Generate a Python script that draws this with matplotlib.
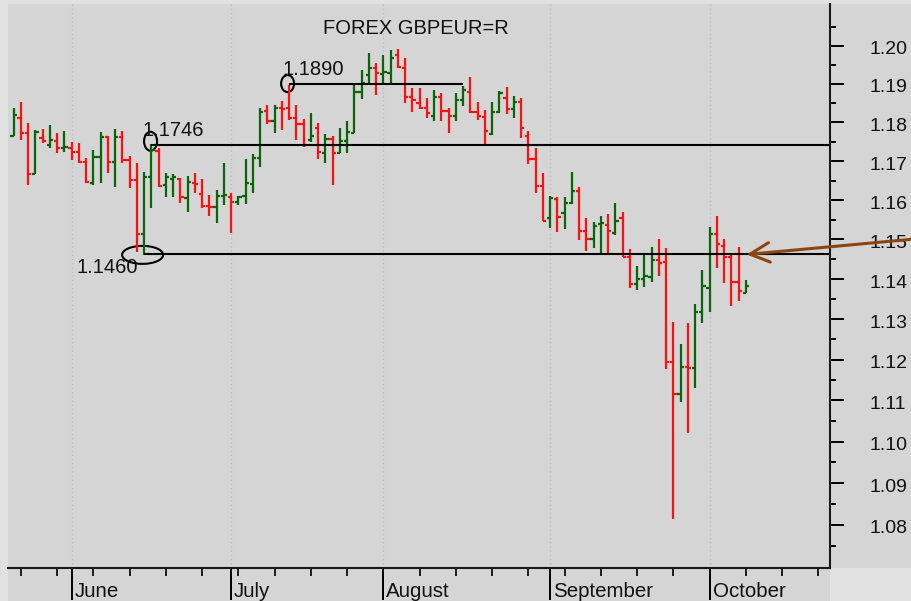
import numpy as np
import pandas as pd
import matplotlib
matplotlib.use("Agg")
import matplotlib.pyplot as plt
from matplotlib.patches import Ellipse, Rectangle
from matplotlib.ticker import FixedLocator, NullFormatter, FuncFormatter
from matplotlib.transforms import ScaledTranslation

plt.rcParams["font.family"] = ["Liberation Sans", "DejaVu Sans"]

# daily GBP/EUR bars, one per weekday
dates = pd.bdate_range("2022-05-20", "2022-10-10")

opens = [1.1765, 1.1812, 1.1773, 1.1667, 1.1760, 1.1742, 1.1752, 1.1734,
         1.1734, 1.1724, 1.1698, 1.1644, 1.1711, 1.1762, 1.1698, 1.1762,
         1.1703, 1.1652, 1.1514, 1.1659, 1.1726, 1.1639, 1.1654, 1.1654,
         1.1606, 1.1644, 1.1616, 1.1585, 1.1583, 1.1611, 1.1608, 1.1595,
         1.1611, 1.1641, 1.1708, 1.1830, 1.1804, 1.1838, 1.1838, 1.1812,
         1.1796, 1.1755, 1.1786, 1.1721, 1.1757, 1.1721, 1.1752, 1.1773,
         1.1879, 1.1924, 1.1942, 1.1926, 1.1929, 1.1976, 1.1942, 1.1866,
         1.1851, 1.1838, 1.1817, 1.1866, 1.1830, 1.1817, 1.1858, 1.1879,
         1.1827, 1.1814, 1.1770, 1.1827, 1.1864, 1.1835, 1.1853, 1.1765,
         1.1706, 1.1636, 1.1555, 1.1603, 1.1567, 1.1593, 1.1623, 1.1522,
         1.1501, 1.1539, 1.1537, 1.1516, 1.1555, 1.1456, 1.1388, 1.1400,
         1.1405, 1.1448, 1.1443, 1.1194, 1.1116, 1.1182, 1.1179, 1.1318,
         1.1378, 1.1514, 1.1483, 1.1456, 1.1393, 1.1366]
highs = [1.1838, 1.1853, 1.1798, 1.1780, 1.1783, 1.1793, 1.1773, 1.1778,
         1.1749, 1.1747, 1.1708, 1.1729, 1.1775, 1.1765, 1.1783, 1.1778,
         1.1713, 1.1695, 1.1672, 1.1744, 1.1734, 1.1670, 1.1667, 1.1657,
         1.1662, 1.1670, 1.1654, 1.1613, 1.1626, 1.1695, 1.1618, 1.1611,
         1.1705, 1.1718, 1.1838, 1.1845, 1.1845, 1.1856, 1.1897, 1.1845,
         1.1809, 1.1825, 1.1798, 1.1770, 1.1765, 1.1786, 1.1804, 1.1897,
         1.1937, 1.1982, 1.1955, 1.1976, 1.1989, 1.1992, 1.1968, 1.1890,
         1.1890, 1.1864, 1.1884, 1.1877, 1.1838, 1.1877, 1.1895, 1.1918,
         1.1853, 1.1832, 1.1853, 1.1882, 1.1892, 1.1869, 1.1864, 1.1778,
         1.1734, 1.1670, 1.1611, 1.1608, 1.1608, 1.1672, 1.1634, 1.1555,
         1.1545, 1.1560, 1.1565, 1.1593, 1.1570, 1.1476, 1.1433, 1.1461,
         1.1481, 1.1501, 1.1478, 1.1293, 1.1238, 1.1291, 1.1338, 1.1423,
         1.1532, 1.1560, 1.1501, 1.1466, 1.1481, 1.1398]
lows = [1.1765, 1.1755, 1.1639, 1.1667, 1.1747, 1.1734, 1.1721, 1.1724,
        1.1703, 1.1695, 1.1644, 1.1639, 1.1644, 1.1670, 1.1634, 1.1695,
        1.1631, 1.1468, 1.1461, 1.1580, 1.1634, 1.1608, 1.1608, 1.1593,
        1.1570, 1.1618, 1.1580, 1.1560, 1.1542, 1.1588, 1.1516, 1.1588,
        1.1590, 1.1618, 1.1685, 1.1796, 1.1773, 1.1780, 1.1806, 1.1755,
        1.1737, 1.1749, 1.1706, 1.1695, 1.1639, 1.1721, 1.1721, 1.1773,
        1.1861, 1.1897, 1.1871, 1.1897, 1.1903, 1.1942, 1.1851, 1.1827,
        1.1835, 1.1812, 1.1804, 1.1804, 1.1773, 1.1804, 1.1843, 1.1825,
        1.1806, 1.1744, 1.1767, 1.1825, 1.1822, 1.1812, 1.1760, 1.1693,
        1.1618, 1.1547, 1.1529, 1.1519, 1.1527, 1.1590, 1.1498, 1.1471,
        1.1478, 1.1463, 1.1463, 1.1511, 1.1456, 1.1378, 1.1373, 1.1380,
        1.1393, 1.1408, 1.1177, 1.0814, 1.1096, 1.1021, 1.1130, 1.1291,
        1.1318, 1.1428, 1.1390, 1.1333, 1.1346, 1.1366]
closes = [1.1819, 1.1773, 1.1667, 1.1775, 1.1752, 1.1755, 1.1734, 1.1737,
          1.1724, 1.1698, 1.1646, 1.1711, 1.1762, 1.1698, 1.1762, 1.1703,
          1.1652, 1.1514, 1.1659, 1.1729, 1.1636, 1.1659, 1.1659, 1.1608,
          1.1646, 1.1641, 1.1585, 1.1583, 1.1611, 1.1613, 1.1595, 1.1608,
          1.1644, 1.1708, 1.1827, 1.1804, 1.1838, 1.1835, 1.1812, 1.1796,
          1.1742, 1.1765, 1.1724, 1.1757, 1.1721, 1.1752, 1.1775, 1.1879,
          1.1903, 1.1942, 1.1929, 1.1932, 1.1968, 1.1945, 1.1866, 1.1858,
          1.1838, 1.1825, 1.1866, 1.1830, 1.1817, 1.1858, 1.1884, 1.1827,
          1.1817, 1.1778, 1.1827, 1.1877, 1.1835, 1.1853, 1.1786, 1.1706,
          1.1636, 1.1547, 1.1605, 1.1557, 1.1593, 1.1623, 1.1522, 1.1501,
          1.1534, 1.1542, 1.1522, 1.1547, 1.1456, 1.1388, 1.1400, 1.1408,
          1.1448, 1.1441, 1.1194, 1.1116, 1.1182, 1.1179, 1.1318, 1.1383,
          1.1514, 1.1488, 1.1456, 1.1393, 1.1370, 1.1383]

# support / resistance marks drawn on the chart
levels = [1.1899, 1.1742, 1.1462]
level_text = ["1.1890", "1.1746", "1.1460"]
level_from = [38, 19, 18]
level_to = [62, None, None]
circles = [(37.8, 1.1901, 13, 17), (18.9, 1.1751, 13, 19), (17.8, 1.1461, 41, 18)]
text_px = [(283, 75), (143, 136), (77, 273)]

y_major = [1.08, 1.09, 1.10, 1.11, 1.12, 1.13, 1.14, 1.15, 1.16, 1.17, 1.18, 1.19, 1.20]
y_minor = [v + 0.005 for v in [1.07] + y_major]

W, H = 912, 601
gray = "#d5d5d5"
red = "#ff1010"
green = "#0a640a"

fig = plt.figure(figsize=(W / 100, H / 100), dpi=100, facecolor="#e1e1e1")
fig.patches.extend([
    Rectangle((8 / W, 0), 822 / W, 597 / H, transform=fig.transFigure,
              facecolor=gray, edgecolor="none", zorder=-5),
    Rectangle((830 / W, 33 / H), 82 / W, 564 / H, transform=fig.transFigure,
              facecolor=gray, edgecolor="none", zorder=-5),
])
ax = fig.add_axes([8 / W, 33 / H, 822 / W, 564 / H], facecolor=gray)

x = np.arange(len(dates))
o = np.array(opens)
c = np.array(closes)
cols = np.where(c >= o, green, red)
ax.vlines(x, lows, highs, colors=cols, lw=1.6)
ax.hlines(o, x - 0.45, x, colors=cols, lw=1.6)
ax.hlines(c, x, x + 0.45, colors=cols, lw=1.6)

ax.set_yscale("log")
ax.set_ylim(1.06982, 1.21112)
xmax = 112.6
ax.set_xlim(-0.76, xmax)

# axis: months as major ticks, mondays as minor
days = pd.bdate_range("2022-05-20", "2022-11-04")
months = [i for i in range(1, len(days)) if days[i].month != days[i - 1].month]
mondays = [i for i in range(len(days)) if days[i].weekday() == 0]
ax.xaxis.set_major_locator(FixedLocator(months))
ax.xaxis.set_minor_locator(FixedLocator(mondays))
ax.tick_params(axis="x", which="major", length=23, width=1.4, labelbottom=False)
ax.tick_params(axis="x", which="minor", length=6, width=1.2)
for i in months:
    if i < xmax:
        ax.annotate(days[i].strftime("%B"), xy=(i, 0), xycoords=ax.get_xaxis_transform(),
                    xytext=(3, -29), textcoords="offset pixels", va="baseline",
                    fontsize=14.8, color="#111111", annotation_clip=False)
ax.grid(True, axis="x", which="major", color="#bcbcbc", linestyle=(0, (1, 2)), lw=1)

ax.yaxis.set_ticks_position("right")
ax.yaxis.set_major_locator(FixedLocator(y_major))
ax.yaxis.set_minor_locator(FixedLocator(y_minor))
ax.yaxis.set_major_formatter(FuncFormatter(lambda v, p: "%.2f" % v))
ax.yaxis.set_minor_formatter(NullFormatter())
ax.tick_params(axis="y", which="major", length=10, width=1.4, pad=18.5,
               labelsize=14, labelcolor="#111111")
ax.tick_params(axis="y", which="minor", length=4.3, width=1.4)
for lab in ax.get_yticklabels():
    lab.set_transform(lab.get_transform() + ScaledTranslation(0, -0.02, fig.dpi_scale_trans))

for s in ["left", "top"]:
    ax.spines[s].set_visible(False)
for s in ["right", "bottom"]:
    ax.spines[s].set_linewidth(1.5)
    ax.spines[s].set_color("#1a1a1a")

for lv, a, b in zip(levels, level_from, level_to):
    ax.hlines(lv, a, b if b is not None else xmax, color="black", lw=1.5)
for cx, cy, w, h in circles:
    pt = ax.transAxes.inverted().transform(ax.transData.transform((cx, cy)))
    ax.add_patch(Ellipse(pt, w / 822, h / 564, transform=ax.transAxes,
                         fill=False, ec="black", lw=1.5))
for t, (px, py) in zip(level_text, text_px):
    fig.text(px / W, 1 - py / H, t, fontsize=14.5, va="baseline", color="#111111")

fig.text(323 / W, 1 - 34 / H, "FOREX GBPEUR=R", fontsize=14.5, va="baseline", color="#111111")

ax.annotate("", xy=(101.1, levels[2]), xycoords="data",
            xytext=(1.01, 1 - 238.4 / H), textcoords="figure fraction",
            arrowprops=dict(arrowstyle="->,head_length=0.7,head_width=0.35",
                            color="#8b4513", lw=2.2, shrinkA=0, shrinkB=0,
                            mutation_scale=20),
            annotation_clip=False)

fig.savefig("out.png", dpi=100, facecolor=fig.get_facecolor())
